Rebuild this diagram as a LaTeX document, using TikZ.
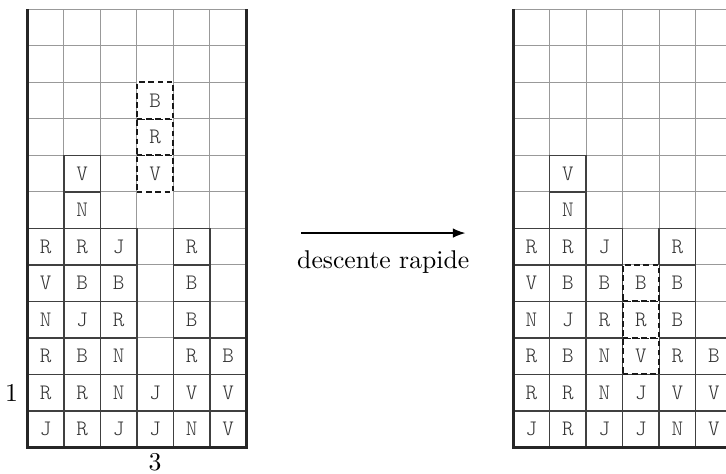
\documentclass[tikz,border=0pt]{standalone}
\usetikzlibrary{arrows.meta}
\newcommand{\cellfont}{\ttfamily\fontseries{l}\selectfont}
\tikzset{
  gridline/.style={draw=black!40, line width=0.5pt},
  cell/.style={draw=black!75, line width=0.6pt, minimum size=0.5cm, inner sep=0pt, font=\cellfont\fontsize{8.6}{10}\selectfont, text=black!80},
  piece/.style={cell, draw=black!90, line width=0.7pt, fill=white, dash pattern=on 2.2pt off 1.4pt},
  border/.style={line width=1.1pt, draw=black!85},
  lbl/.style={inner sep=0pt},
}
\newcommand{\wellgrid}[1]{%
  \foreach \i in {0,...,6} \draw[gridline] (\i,0) -- (\i,12);
  \foreach \j in {0,...,12} \draw[gridline] (0,\j) -- (6,\j);
  \foreach \c/\r/\t in {0/0/J,1/0/R,2/0/J,3/0/J,4/0/N,5/0/V,
                        0/1/R,1/1/R,2/1/N,3/1/J,4/1/V,5/1/V,
                        0/2/R,1/2/B,2/2/N,4/2/R,5/2/B,
                        0/3/N,1/3/J,2/3/R,4/3/B,
                        0/4/V,1/4/B,2/4/B,4/4/B,
                        0/5/R,1/5/R,2/5/J,4/5/R,
                        1/6/N,1/7/V}
    \node[cell] (#1-\c-\r) at (\c+0.5,\r+0.5) {\t};
  \draw[border] (0,12) -- (0,0) -- (6,0) -- (6,12);
}
\begin{document}
\begin{tikzpicture}[x=0.5cm,y=0.5cm]
\useasboundingbox (-0.748,-0.726) rectangle (19.14,12.255);
\clip (-0.748,-0.726) rectangle (19.14,12.255);
% left well
\wellgrid{L}
\foreach \r/\t in {7/V,8/R,9/B}
  \node[piece] (L-3-\r) at (3.5,\r+0.5) {\t};
\node[lbl] (rowlabel) at (-0.43,1.5) {1};
\node[lbl] (collabel) at (3.5,-0.42) {3};
% arrow
\coordinate (as) at (7.5,5.87);
\coordinate (ae) at (12,5.87);
\draw[line width=0.5pt, -{Latex[length=1.7mm,width=1.3mm]}] (as) -- (ae);
\node[lbl, anchor=north] (desc) at (9.75,5.4) {descente rapide};
% right well
\begin{scope}[shift={(13.31,0)}]
\wellgrid{R}
\foreach \r/\t in {2/V,3/R,4/B}
  \node[piece] (R-3-\r) at (3.5,\r+0.5) {\t};
\end{scope}
\end{tikzpicture}
\end{document}
